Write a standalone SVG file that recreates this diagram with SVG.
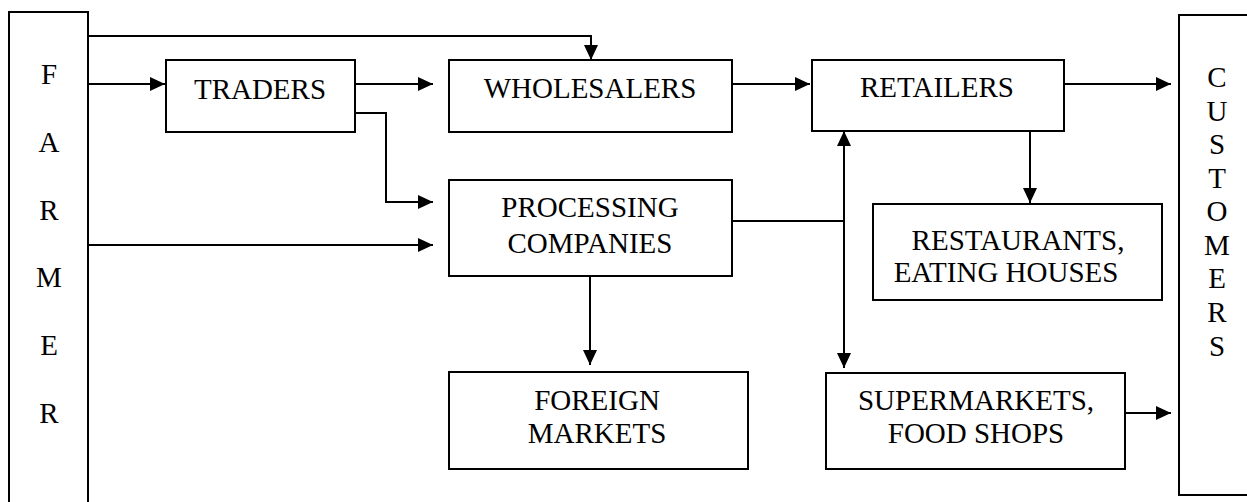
<svg xmlns="http://www.w3.org/2000/svg" width="1247" height="502" viewBox="0 0 1247 502">
<defs>
<marker id="ah" markerUnits="userSpaceOnUse" markerWidth="16" markerHeight="14" refX="15" refY="7" orient="auto">
<path d="M0,0 L15,7 L0,14 z" fill="#000"/>
</marker>
<style>
.box{fill:#fff;stroke:#000;stroke-width:2}
.c{fill:none;stroke:#000;stroke-width:2}
.a{marker-end:url(#ah)}
text{font-family:"Liberation Serif","Times New Roman",serif;font-size:29px;fill:#000;text-anchor:middle}
</style>
</defs>
<rect width="1247" height="502" fill="#fff"/>
<g id="connectors">
<path class="c a" d="M88,36 H591 V60"/>
<path class="c a" d="M88,84 H165"/>
<path class="c a" d="M355,84 H433"/>
<path class="c a" d="M355,113 H386 V202 H433"/>
<path class="c a" d="M88,245 H433"/>
<path class="c a" d="M732,84 H810"/>
<path class="c a" d="M1064,84 H1171"/>
<path class="c" d="M732,221 H844"/>
<path class="c a" d="M844,221 V131"/>
<path class="c a" d="M844,221 V368"/>
<path class="c a" d="M1030,131 V203"/>
<path class="c a" d="M590,276 V365"/>
<path class="c a" d="M1125,413 H1171"/>
</g>
<g id="farmer">
<rect class="box" x="9" y="12" width="79" height="500"/>
<text x="49" y="84">F</text>
<text x="49" y="152">A</text>
<text x="49" y="220">R</text>
<text x="49" y="287">M</text>
<text x="49" y="355">E</text>
<text x="49" y="423">R</text>
</g>
<g id="traders">
<rect class="box" x="166" y="60" width="189" height="72"/>
<text x="260" y="99">TRADERS</text>
</g>
<g id="wholesalers">
<rect class="box" x="449" y="60" width="283" height="72"/>
<text x="590" y="98">WHOLESALERS</text>
</g>
<g id="retailers">
<rect class="box" x="812" y="60" width="252" height="71"/>
<text x="937" y="97">RETAILERS</text>
</g>
<g id="processing">
<rect class="box" x="449" y="180" width="283" height="96"/>
<text x="590" y="217">PROCESSING</text>
<text x="590" y="253">COMPANIES</text>
</g>
<g id="restaurants">
<rect class="box" x="873" y="204" width="289" height="96"/>
<text x="1018" y="250">RESTAURANTS,</text>
<text x="1006" y="282">EATING HOUSES</text>
</g>
<g id="foreign">
<rect class="box" x="449" y="372" width="299" height="97"/>
<text x="597" y="410">FOREIGN</text>
<text x="597" y="443">MARKETS</text>
</g>
<g id="supermarkets">
<rect class="box" x="826" y="373" width="299" height="96"/>
<text x="976" y="410">SUPERMARKETS,</text>
<text x="976" y="443">FOOD SHOPS</text>
</g>
<g id="customers">
<rect class="box" x="1179" y="15" width="80" height="480"/>
<text x="1217" y="87">C</text>
<text x="1217" y="121">U</text>
<text x="1217" y="154">S</text>
<text x="1217" y="188">T</text>
<text x="1217" y="221">O</text>
<text x="1217" y="255">M</text>
<text x="1217" y="288">E</text>
<text x="1217" y="322">R</text>
<text x="1217" y="356">S</text>
</g>
</svg>
